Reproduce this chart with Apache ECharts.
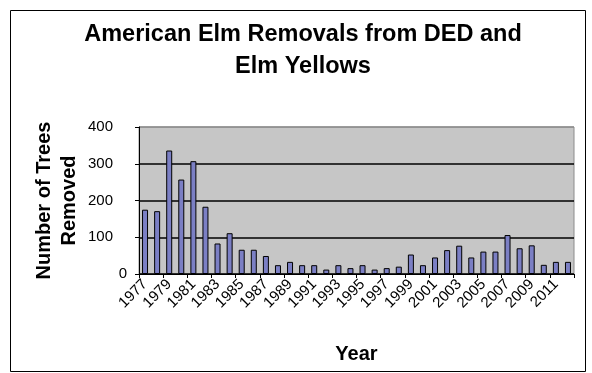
<!DOCTYPE html>
<html>
<head>
<meta charset="utf-8">
<script src="https://cdn.jsdelivr.net/npm/echarts@6/dist/echarts.min.js"></script>
<style>
  html, body { margin: 0; padding: 0; background: #ffffff; }
  #chart { width: 592px; height: 373px; }
</style>
</head>
<body>
<div id="chart"></div>
<script>
// Yearly American elm removals (DED and Elm Yellows)
const years = [
  '1977', '1978', '1979', '1980', '1981', '1982', '1983', '1984', '1985',
  '1986', '1987', '1988', '1989', '1990', '1991', '1992', '1993', '1994',
  '1995', '1996', '1997', '1998', '1999', '2000', '2001', '2002', '2003',
  '2004', '2005', '2006', '2007', '2008', '2009', '2010', '2011', '2012'
];
const treesRemoved = [
  175, 171, 336, 257, 307, 183, 83, 111, 66,
  66, 49, 24, 33, 24, 24, 12, 24, 16,
  24, 12, 16, 20, 53, 24, 45, 65, 77,
  45, 61, 61, 106, 70, 78, 25, 33, 33
];
const yTicks = [0, 100, 200, 300, 400];

const FONT = '"Liberation Sans", Arial, sans-serif';

const chart = echarts.init(document.getElementById('chart'), null, { renderer: 'canvas' });

chart.setOption({
  animation: false,
  backgroundColor: '#ffffff',
  title: {
    text: 'American Elm Removals from DED and\nElm Yellows',
    left: 298,
    top: 14,
    textAlign: 'center',
    textStyle: {
      fontFamily: FONT,
      fontWeight: 'bold',
      fontSize: 23.5,
      lineHeight: 32,
      color: '#000'
    }
  },
  graphic: [
    {
      type: 'rect',
      shape: { x: 10.5, y: 10.5, width: 575, height: 361 },
      style: { fill: 'none', stroke: '#000', lineWidth: 1 },
      z: -1
    }
  ],
  grid: {
    left: 139,
    right: 18,
    top: 127,
    bottom: 99,
    show: true,
    backgroundColor: '#c6c6c6',
    borderColor: '#8c8c8c',
    borderWidth: 1
  },
  xAxis: {
    type: 'category',
    data: years,
    name: 'Year',
    nameLocation: 'middle',
    nameGap: 70,
    nameTextStyle: {
      fontFamily: FONT,
      fontWeight: 'bold',
      fontSize: 20,
      color: '#000'
    },
    axisLine: { show: true, lineStyle: { color: '#000', width: 1 } },
    axisTick: { show: true, alignWithLabel: false, length: 4, lineStyle: { color: '#000' } },
    axisLabel: {
      interval: 1,
      rotate: 45,
      margin: 8,
      fontFamily: FONT,
      fontSize: 15,
      color: '#000'
    },
    splitLine: { show: false }
  },
  yAxis: {
    type: 'value',
    min: yTicks[0],
    max: yTicks[yTicks.length - 1],
    interval: 100,
    name: 'Number of Trees\nRemoved',
    nameLocation: 'middle',
    nameMoveOverlap: false,
    nameGap: 57,
    nameRotate: 90,
    nameTextStyle: {
      fontFamily: FONT,
      fontWeight: 'bold',
      fontSize: 20,
      lineHeight: 25,
      color: '#000',
      align: 'center'
    },
    axisLine: { show: true, lineStyle: { color: '#000', width: 1 } },
    axisTick: { show: true, length: 4, lineStyle: { color: '#000' } },
    axisLabel: {
      margin: 12,
      fontFamily: FONT,
      fontSize: 15,
      color: '#000',
      // zero sits close to the axis; the other values are set further left
      formatter: function (v) { return v === 0 ? '0' : '{p|' + v + '}'; },
      rich: {
        p: { fontFamily: FONT, fontSize: 15, color: '#000', padding: [0, 14, 0, 0] }
      }
    },
    splitLine: {
      show: true,
      lineStyle: { color: ['#000', '#000', '#000', '#000', '#8c8c8c'], width: 1.5 }
    }
  },
  series: [
    {
      type: 'bar',
      data: treesRemoved,
      barWidth: 6,
      itemStyle: {
        color: '#7b7fc4',
        borderColor: '#000',
        borderWidth: 1
      }
    }
  ]
});
</script>
</body>
</html>
